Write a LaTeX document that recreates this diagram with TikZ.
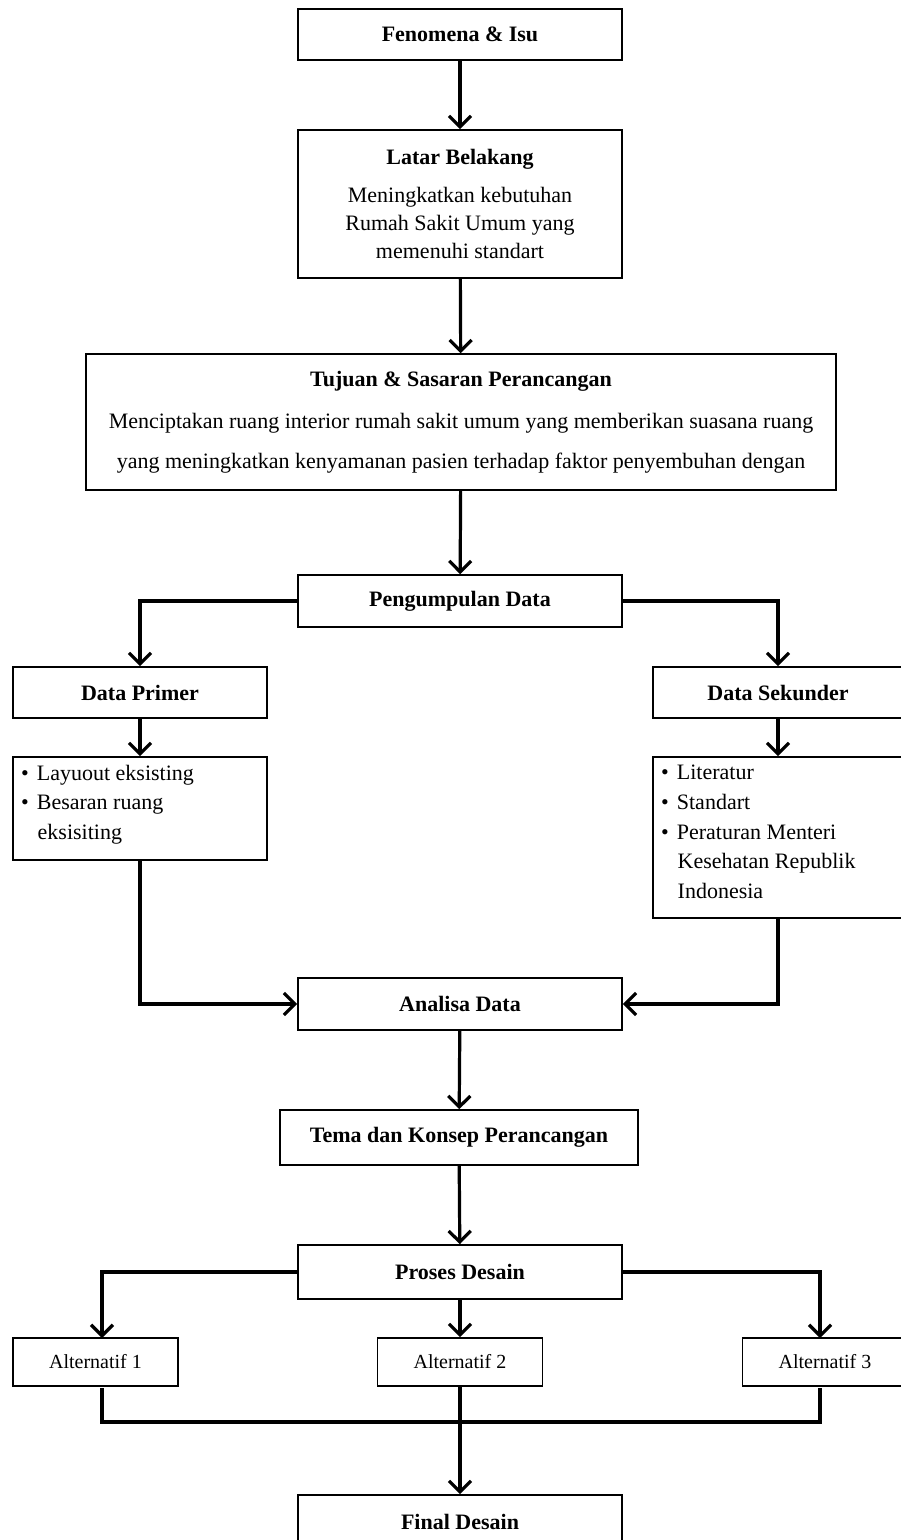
\documentclass[tikz,border=0pt]{standalone}
\usepackage{fontspec}
\setmainfont{Liberation Serif}
\usetikzlibrary{arrows.meta}
\begin{document}
\begin{tikzpicture}[x=1pt,y=-1pt,
  box/.style={draw, line width=1.6pt, inner sep=0pt, align=center, font=\fontsize{22}{28}\selectfont},
  conn/.style={line width=3.2pt, -{Straight Barb[length=11pt,width=22pt,line width=3.2pt]}},
  plain/.style={line width=3.2pt}]
\useasboundingbox (0,0) rectangle (901,1540);
\fill[white] (0,0) rectangle (901,1540);
\node[box, minimum width=324, minimum height=51] (fen) at (460,34.5) {\textbf{Fenomena \& Isu}};
\node[box, minimum width=324, minimum height=148] (lat) at (460,204) {\textbf{Latar Belakang}\\[10pt]Meningkatkan kebutuhan\\Rumah Sakit Umum yang\\memenuhi standart};
\node[box, minimum width=750, minimum height=136, font=\fontsize{22}{40}\selectfont] (tuj) at (461,422) {\textbf{Tujuan \& Sasaran Perancangan}\\[2pt]Menciptakan ruang interior rumah sakit umum yang memberikan suasana ruang\\yang meningkatkan kenyamanan pasien terhadap faktor penyembuhan dengan};
\node[box, minimum width=324, minimum height=52] (pen) at (460,601) {\textbf{Pengumpulan Data}};
\node[box, minimum width=254, minimum height=51] (dp) at (140,692.5) {\textbf{Data Primer}};
\node[box, minimum width=254, minimum height=103] (dpl) at (140,808.5) {};
\node[anchor=north west, align=left, inner sep=0pt, font=\fontsize{22}{29.5}\selectfont] (dplt) at (21,765) {\textbullet\hspace{8pt}Layuout eksisting\\\textbullet\hspace{8pt}Besaran ruang\\\hspace{16.5pt}eksisiting};
\node[box, minimum width=250, minimum height=51] (ds) at (778,692.5) {\textbf{Data Sekunder}};
\node[box, minimum width=250, minimum height=161] (dsl) at (778,837.5) {};
\node[anchor=north west, align=left, inner sep=0pt, font=\fontsize{22}{29.7}\selectfont] (dslt) at (661,765) {\textbullet\hspace{8pt}Literatur\\\textbullet\hspace{8pt}Standart\\\textbullet\hspace{8pt}Peraturan Menteri\\\hspace{16.5pt}Kesehatan Republik\\\hspace{16.5pt}Indonesia};
\node[box, minimum width=324, minimum height=52] (ana) at (460,1004) {\textbf{Analisa Data}};
\node[box, minimum width=358, minimum height=55] (tem) at (459,1137.5) {\textbf{Tema dan Konsep Perancangan}};
\node[box, minimum width=324, minimum height=54] (pro) at (460,1272) {\textbf{Proses Desain}};
\node[box, minimum width=165, minimum height=48, font=\fontsize{20}{28}\selectfont] (a1) at (95.5,1362) {Alternatif 1};
\node[box, minimum width=165, minimum height=48, font=\fontsize{20}{28}\selectfont] (a2) at (460,1362) {Alternatif 2};
\node[box, minimum width=165, minimum height=48, font=\fontsize{20}{28}\selectfont] (a3) at (825,1362) {Alternatif 3};
\node[box, minimum width=324, minimum height=54] (fin) at (460,1522) {\textbf{Final Desain}};
% connectors
\draw[conn] (fen) -- (lat);
\draw[conn] (lat) -- (tuj);
\draw[conn] (tuj) -- (pen);
\draw[conn] (pen.west) -| (dp.north);
\draw[conn] (pen.east) -| (ds.north);
\draw[conn] (dp) -- (dpl);
\draw[conn] (ds) -- (dsl);
\draw[conn] (dpl.south) |- (ana.west);
\draw[conn] (dsl.south) |- (ana.east);
\draw[conn] (ana) -- (tem);
\draw[conn] (tem) -- (pro);
\draw[conn] (pro.west) -| (102,1338) coordinate (a1t);
\draw[conn] (pro.east) -| (820,1338) coordinate (a3t);
\draw[conn] (pro) -- (a2);
\coordinate (m1) at (102,1422);
\coordinate (m3) at (820,1422);
\draw[plain] (102,1388) coordinate (a1b) -- (m1) -- (m3) -- (820,1388) coordinate (a3b);
\draw[conn] (a2) -- (fin);
\end{tikzpicture}
\end{document}
